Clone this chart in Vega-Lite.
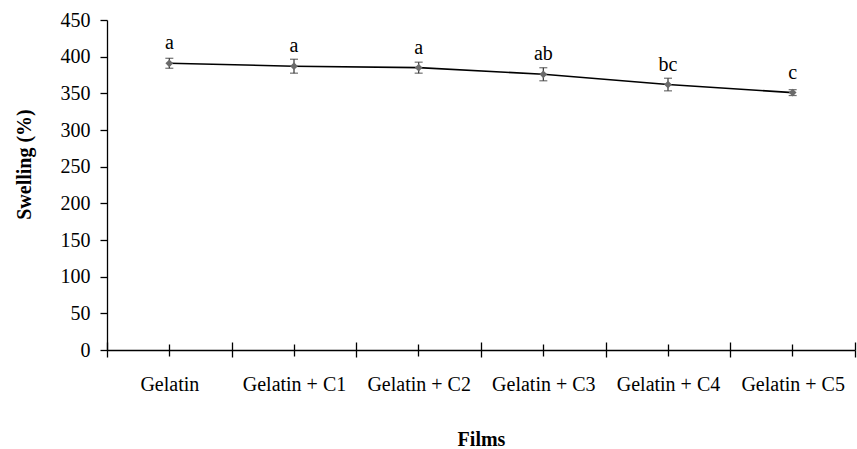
{
  "$schema": "https://vega.github.io/schema/vega-lite/v6.json",
  "autosize": {"type": "none"},
  "padding": {"left": 107, "top": 20, "right": 2, "bottom": 99},
  "width": 748,
  "height": 330,
  "background": "white",
  "config": {
    "font": "Liberation Serif",
    "view": {"stroke": null},
    "axis": {"grid": false, "domainColor": "black", "tickColor": "black", "labelColor": "black", "titleColor": "black", "labelFont": "Liberation Serif", "titleFont": "Liberation Serif", "labelFontSize": 20, "titleFontSize": 20, "titleFontWeight": "bold", "domainWidth": 1.3, "tickWidth": 1.3}
  },
  "data": {
    "values": [
      {"film": "Gelatin", "value": 391, "err": 6.8, "sig": "a"},
      {"film": "Gelatin + C1", "value": 387, "err": 9.5, "sig": "a"},
      {"film": "Gelatin + C2", "value": 385, "err": 7.5, "sig": "a"},
      {"film": "Gelatin + C3", "value": 376, "err": 8.9, "sig": "ab"},
      {"film": "Gelatin + C4", "value": 362, "err": 8.6, "sig": "bc"},
      {"film": "Gelatin + C5", "value": 351, "err": 4.0, "sig": "c"}
    ]
  },
  "layer": [
    {
      "mark": {"type": "line", "color": "black", "strokeWidth": 1.6},
      "encoding": {
        "x": {"field": "film", "type": "nominal", "sort": null,
              "scale": {"paddingInner": 0, "paddingOuter": 0},
              "axis": {"orient": "bottom", "tickBand": "extent", "tickSize": 7, "labelAngle": 0, "labelBaseline": "alphabetic", "labelPadding": 33, "title": "Films", "titleBaseline": "alphabetic", "titleY": 95, "titlePadding": 0}},
        "y": {"field": "value", "type": "quantitative", "title": "Swelling (%)",
              "scale": {"domain": [0, 450], "nice": false},
              "axis": {"values": [0, 50, 100, 150, 200, 250, 300, 350, 400, 450], "tickSize": 7, "labelPadding": 10, "title": "Swelling (%)", "titleX": -77, "titleY": 144, "titleBaseline": "alphabetic", "titleAngle": -90}}
      }
    },
    {
      "mark": {"type": "errorbar", "color": "#333333", "thickness": 1.2, "ticks": {"size": 8}},
      "encoding": {
        "x": {"field": "film", "type": "nominal", "sort": null,
              "axis": {"orient": "bottom", "tickBand": "extent", "tickSize": -8, "labels": false, "domain": false, "title": null}},
        "y": {"field": "value", "type": "quantitative", "title": "Swelling (%)",
              "axis": {"values": [0, 50, 100, 150, 200, 250, 300, 350, 400, 450], "tickSize": 7, "labelPadding": 10, "title": "Swelling (%)", "titleX": -77, "titleY": 144, "titleBaseline": "alphabetic", "titleAngle": -90}},
        "yError": {"field": "err"}
      }
    },
    {
      "mark": {"type": "point", "shape": "diamond", "filled": true, "color": "#6b6b6b", "opacity": 1, "size": 60},
      "encoding": {
        "x": {"field": "film", "type": "nominal", "sort": null,
              "axis": {"orient": "bottom", "tickBand": "center", "tickSize": 6, "labels": false, "domain": false, "title": null}},
        "y": {"field": "value", "type": "quantitative", "title": "Swelling (%)",
              "axis": {"values": [0, 50, 100, 150, 200, 250, 300, 350, 400, 450], "tickSize": 7, "labelPadding": 10, "title": "Swelling (%)", "titleX": -77, "titleY": 144, "titleBaseline": "alphabetic", "titleAngle": -90}}
      }
    },
    {
      "mark": {"type": "text", "fontSize": 20, "dy": -20, "baseline": "middle", "color": "black", "font": "Liberation Serif"},
      "encoding": {
        "x": {"field": "film", "type": "nominal", "sort": null,
              "axis": {"orient": "bottom", "tickBand": "center", "tickSize": -6, "labels": false, "domain": false, "title": null}},
        "y": {"field": "value", "type": "quantitative", "title": "Swelling (%)",
              "axis": {"values": [0, 50, 100, 150, 200, 250, 300, 350, 400, 450], "tickSize": 7, "labelPadding": 10, "title": "Swelling (%)", "titleX": -77, "titleY": 144, "titleBaseline": "alphabetic", "titleAngle": -90}},
        "text": {"field": "sig"}
      }
    }
  ],
  "resolve": {"axis": {"x": "independent"}}
}
